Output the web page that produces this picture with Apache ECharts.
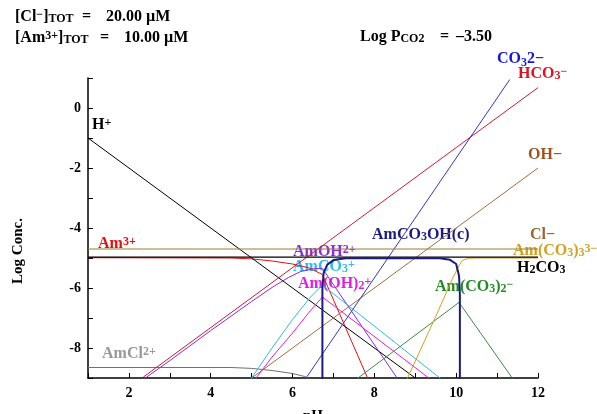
<!DOCTYPE html>
<html>
<head>
<meta charset="utf-8">
<title>Am speciation</title>
<script src="https://cdn.jsdelivr.net/npm/echarts/dist/echarts.min.js"></script>
<style>
  html, body { margin: 0; padding: 0; background: #fff; }
  #chart { width: 597px; height: 414px; }
</style>
</head>
<body>
<div id="chart"></div>
<script>
// log concentration vs pH as [pH, log C]
var hPlus    = [[1, -1], [9, -9]];
var ohMinus  = [[5, -9], [12, -2]];
var co3      = [[6.33, -9], [11.31, 0.95]];
var hco3     = [[2.35, -8.97], [12, 0.68]];
var h2co3    = [[1, -4.97], [12, -4.97]];
var clMinus  = [[1, -4.70], [12, -4.70]];
var am3      = [[1, -4.99], [4.5, -5.0], [5, -5.03], [5.5, -5.1], [6, -5.2], [6.4, -5.33], [6.73, -5.55], [7.85, -9.05]];
var amOH     = [[2.35, -9.05], [3, -8.42], [4, -7.42], [5, -6.45], [5.5, -5.98], [5.9, -5.65], [6.2, -5.45], [6.5, -5.36], [6.73, -5.35], [8.57, -9.03]];
var amCO3    = [[4.97, -9.05], [5.5, -8.0], [6, -7.05], [6.44, -6.3], [6.73, -5.9], [9.62, -9.02]];
var amOH2    = [[5.08, -9.05], [5.5, -8.3], [6, -7.5], [6.44, -6.75], [6.73, -6.3], [9.35, -9.02]];
var amCO3_2  = [[7.58, -9.02], [10.07, -6.48], [11.38, -9.02]];
var amCO3_3  = [[8.8, -9.03], [9.5, -6.95], [9.9, -5.72], [10.05, -5.3], [10.15, -5.08], [10.3, -5.01], [10.5, -5.0], [12, -5.0]];
var amCl     = [[1, -8.65], [4.5, -8.65], [5, -8.68], [5.5, -8.75], [6, -8.85], [6.3, -8.95], [6.5, -9.1]];
var amCO3OHc = [[6.73, -9.5], [6.73, -6.0], [6.76, -5.5], [6.85, -5.22], [7.0, -5.07], [7.3, -5.01], [9.6, -5.01], [9.85, -5.06], [10.0, -5.2], [10.07, -5.6], [10.09, -6.2], [10.09, -9.5]];

var xTicks = [1, 12];   // pH axis range
var yTicks = [-9, 1];   // log conc range

var serif = '"Liberation Serif", "DejaVu Serif", serif';

function line(name, data, color, width) {
    return {
        name: name, type: 'line', data: data,
        symbol: 'none', silent: true,
        lineStyle: { color: color, width: width || 1 }
    };
}

var rich = {
    b:   { fontSize: 16, fontWeight: 'bold', fontFamily: serif, lineHeight: 20 },
    sub: { fontSize: 12, fontWeight: 'bold', fontFamily: serif, lineHeight: 12, verticalAlign: 'bottom' },
    sup: { fontSize: 12, fontWeight: 'bold', fontFamily: serif, lineHeight: 12, verticalAlign: 'top' }
};

function label(text, x, y, color) {
    return {
        type: 'text', x: x, y: y, silent: true,
        style: {
            text: text, rich: rich, fill: color,
            fontSize: 16, fontWeight: 'bold', fontFamily: serif,
            align: 'left', verticalAlign: 'top'
        }
    };
}

var chart = echarts.init(document.getElementById('chart'));
chart.setOption({
    animation: false,
    backgroundColor: '#fff',
    grid: { left: 88, right: 59, top: 78, bottom: 36, outerBoundsMode: 'none', containLabel: false },
    xAxis: {
        type: 'value', min: xTicks[0], max: xTicks[1], interval: 1,
        name: 'pH', nameLocation: 'middle', nameGap: 31,
        nameTextStyle: { fontFamily: serif, fontWeight: 'bold', fontSize: 15, color: '#000' },
        axisLine: { onZero: false, lineStyle: { color: '#000', width: 1.5 } },
        axisTick: { inside: true, length: 5, lineStyle: { color: '#000' } },
        axisLabel: {
            margin: 8, color: '#000', fontFamily: serif, fontWeight: 'bold', fontSize: 14,
            formatter: function (v) { return v % 2 === 0 ? v : ''; }
        },
        splitLine: { show: false }
    },
    yAxis: {
        type: 'value', min: yTicks[0], max: yTicks[1], interval: 1,
        axisLine: { show: true, onZero: false, lineStyle: { color: '#000', width: 1.5 } },
        axisTick: { show: true, inside: true, length: 5, lineStyle: { color: '#000' } },
        axisLabel: {
            margin: 7, color: '#000', fontFamily: serif, fontWeight: 'bold', fontSize: 14,
            formatter: function (v) { return v % 2 === 0 ? v : ''; }
        },
        splitLine: { show: false }
    },
    series: [
        line('Am3+', am3, '#e01010'),
        line('AmCl2+', amCl, '#707070'),
        line('H+', hPlus, '#000'),
        line('OH-', ohMinus, '#a07040'),
        line('HCO3-', hco3, '#d01838'),
        line('CO3 2-', co3, '#3434c8'),
        line('AmOH2+', amOH, '#8a2be2'),
        line('AmCO3+', amCO3, '#30b8e8'),
        line('Am(OH)2+', amOH2, '#e020d8'),
        line('Am(CO3)2-', amCO3_2, '#3a8a4a'),
        line('Am(CO3)3 3-', amCO3_3, '#d4a020'),
        line('Cl-', clMinus, '#9a8030'),
        line('H2CO3', h2co3, '#000', 1.2),
        line('AmCO3OH(c)', amCO3OHc, '#1a1a80', 2)
    ],
    graphic: [
        label('[Cl{sup|−}]{sub|TOT}', 15, 9, '#000'),
        label('=', 82, 9, '#000'),
        label('20.00 µM', 106, 9, '#000'),
        label('[Am{sup|3+}]{sub|TOT}', 15, 30, '#000'),
        label('=', 100, 30, '#000'),
        label('10.00 µM', 124, 30, '#000'),
        label('Log P{sub|CO}{sub|2}', 360, 29, '#000'),
        label('=', 440, 29, '#000'),
        label('–3.50', 456, 29, '#000'),
        label('CO{sub|3}{b|2−}', 497, 49, '#1515e0'),
        label('HCO{sub|3}{sup|−}', 518, 66, '#e01020'),
        label('OH−', 528, 147, '#a0521d'),
        label('H{sup|+}', 92, 117, '#000'),
        label('Am{sup|3+}', 98, 236, '#e01010'),
        label('AmCl{sup|2+}', 102, 346, '#999999'),
        label('AmCO{sub|3}OH(c)', 372, 227, '#1a1a80'),
        label('Cl−', 530, 227, '#996633'),
        label('Am(CO{sub|3}){sub|3}{sup|3−}', 513, 243, '#d4a020'),
        label('H{sub|2}CO{sub|3}', 517, 260, '#000'),
        label('AmOH{sup|2+}', 293, 244, '#8a2be2'),
        label('AmCO{sub|3}{sup|+}', 293, 259, '#33bbee'),
        label('Am(OH){sub|2}{sup|+}', 298, 276, '#e020e0'),
        label('Am(CO{sub|3}){sub|2}{sup|−}', 435, 279, '#228b22'),
        {
            type: 'text', x: 18, y: 251, rotation: Math.PI / 2, silent: true,
            style: {
                text: 'Log Conc.', fill: '#000',
                fontSize: 15, fontWeight: 'bold', fontFamily: serif,
                align: 'center', verticalAlign: 'middle'
            }
        }
    ]
});
</script>
</body>
</html>
